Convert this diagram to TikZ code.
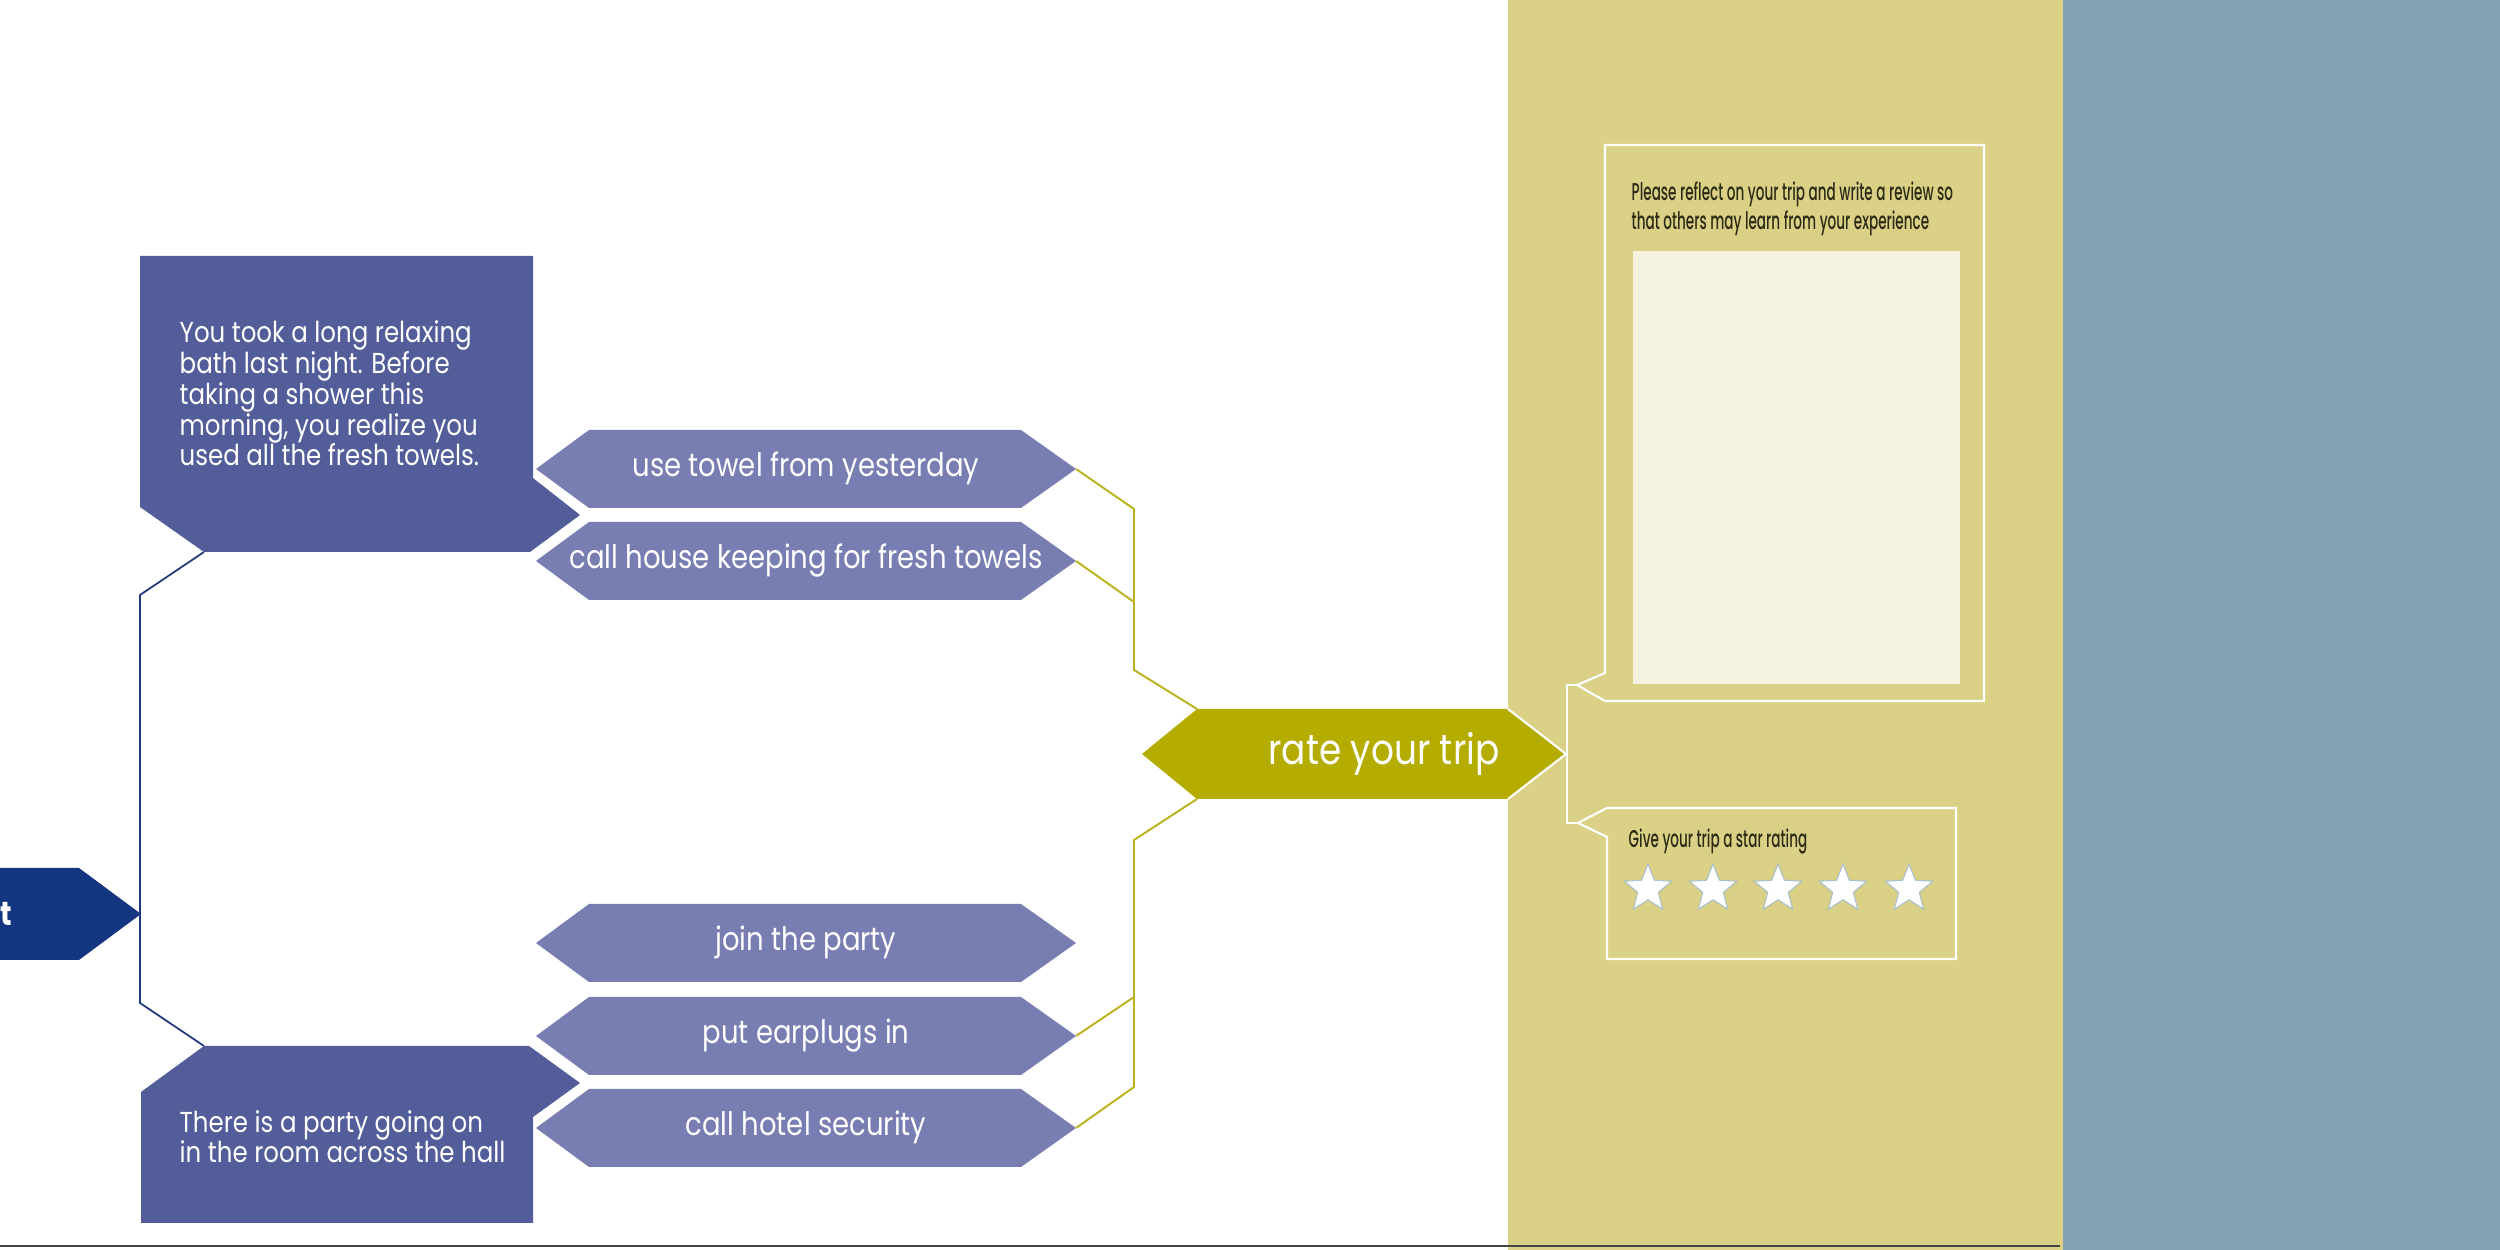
\documentclass[tikz,border=0pt]{standalone}
\usepackage{fontspec}
\setmainfont[FakeStretch=0.85]{Poppins}
\newfontfamily\condfont[FakeStretch=0.56, UprightFont=* Medium]{Poppins}
\usetikzlibrary{shapes.geometric}
\definecolor{boxblue}{HTML}{525D9A}
\definecolor{optblue}{HTML}{787DB2}
\definecolor{startblue}{HTML}{143580}
\definecolor{navyline}{HTML}{1F3A7C}
\definecolor{olivefill}{HTML}{B5AC00}
\definecolor{oliveline}{HTML}{BDB11C}
\definecolor{goldpanel}{HTML}{DAD186}
\definecolor{greyblue}{HTML}{84A3B5}
\definecolor{creambox}{HTML}{F5F2E0}
\definecolor{darktext}{HTML}{2B2A14}
\definecolor{starline}{HTML}{A9BFCB}
\definecolor{bottomgrey}{HTML}{444444}
\newcommand{\drawopt}[3]{%
  \fill[optblue] (536,#2) -- (589,#2-39) -- (1021,#2-39) -- (1076,#2) -- (1021,#2+39) -- (589,#2+39) -- cycle;
  \coordinate (#1-e) at (1076,#2);
  \node[opttext, anchor=base] (#1) at (806,#2+8) {#3};}
\begin{document}
\begin{tikzpicture}[x=0.1mm,y=-0.1mm,
  opttext/.style={inner sep=0pt, text=white, font=\fontsize{9.2}{11}\selectfont},
  boxtext/.style={inner sep=0pt, text=white, align=left, font=\fontsize{8.2}{8.8}\selectfont},
  ratetext/.style={inner sep=0pt, text=white, font=\fontsize{12}{14}\selectfont},
  starttext/.style={inner sep=0pt, text=white, font=\fontsize{9.5}{11}\selectfont\bfseries},
  paneltext/.style={inner sep=0pt, text=darktext, align=left, font=\condfont\fontsize{6.9}{8.5}\selectfont},
  navyconn/.style={draw=navyline, line width=0.5pt},
  oliveconn/.style={draw=oliveline, line width=0.55pt},
  whiteline/.style={draw=white, line width=0.6pt},
  ratingstar/.style={star, star points=5, star point ratio=2.3, minimum size=5mm, inner sep=0pt, fill=white, draw=starline, line width=0.3pt}]
\useasboundingbox (0,0) rectangle (2500,1250);
\fill[white] (0,0) rectangle (2500,1250);
\fill[goldpanel] (1508,0) rectangle (2063,1250);
\fill[greyblue] (2063,0) rectangle (2500,1250);
\draw[bottomgrey, line width=0.55pt] (0,1246) -- (2060,1246);

% start arrow (cut off at left edge)
\fill[startblue] (-20,868) -- (79,868) -- (141,914) -- (79,960) -- (-20,960) -- cycle;
\coordinate (starttip) at (141,914);
\node[starttext, anchor=base east] (start) at (13,926) {t};

% scenario 1
\fill[boxblue] (140,256) -- (533,256) -- (533,478) -- (580,515) -- (530,552) -- (204,552) -- (140,507) -- cycle;
\coordinate (b1corner) at (204,552);
\node[boxtext, anchor=base west] (scen1) at (179,466) {You took a long relaxing\\bath last night. Before\\taking a shower this\\morning, you realize you\\used all the fresh towels.};

% scenario 2
\fill[boxblue] (204,1046) -- (529,1046) -- (580,1083) -- (533,1117) -- (533,1223) -- (141,1223) -- (141,1092) -- cycle;
\coordinate (b2corner) at (204,1046);
\node[boxtext, anchor=base west] (scen2) at (179,1163) {There is a party going on\\in the room across the hall};

% navy connector
\coordinate (nv1) at (140,595);
\coordinate (nv2) at (140,1003);
\draw[navyconn] (b1corner) -- (nv1) -- (nv2) -- (b2corner);

% options
\drawopt{opt1}{469}{use towel from yesterday}
\drawopt{opt2}{561}{call house keeping for fresh towels}
\drawopt{opt3}{943}{join the party}
\drawopt{opt4}{1036}{put earplugs in}
\drawopt{opt5}{1128}{call hotel security}

% rate arrow
\fill[olivefill] (1142,754) -- (1197,709) -- (1508,709) -- (1566,754) -- (1508,799) -- (1197,799) -- cycle;
\coordinate (rate-nw) at (1197,709);
\coordinate (rate-sw) at (1197,799);
\coordinate (rate-e) at (1566,754);
\draw[whiteline] (1508,709) -- (rate-e) -- (1508,799);
\node[ratetext, anchor=base] (rate) at (1384,765) {rate your trip};

% olive connectors
\coordinate (g1) at (1134,509);
\coordinate (g2) at (1134,602);
\coordinate (g3) at (1134,670);
\coordinate (g4) at (1134,840);
\coordinate (g5) at (1134,997);
\coordinate (g6) at (1134,1087);
\draw[oliveconn] (opt1-e) -- (g1) -- (g3) -- (rate-nw);
\draw[oliveconn] (opt2-e) -- (g2);
\draw[oliveconn] (rate-sw) -- (g4) -- (g6) -- (opt5-e);
\draw[oliveconn] (opt4-e) -- (g5);

% right side callouts
\coordinate (r1tip) at (1577,685);
\coordinate (r2tip) at (1578,823);
\coordinate (br1) at (1567,685);
\coordinate (br2) at (1567,823);
\draw[whiteline] (r1tip) -- (br1) -- (br2) -- (r2tip);

\draw[whiteline] (1605,673) -- (1605,145) -- (1984,145) -- (1984,701) -- (1605,701) -- (r1tip) -- cycle;
\fill[creambox] (1633,251) rectangle (1960,684);
\node[paneltext, anchor=base west] (review) at (1631,230) {Please reflect on your trip and write a review so\\that others may learn from your experience};

\draw[whiteline] (1607,837) -- (1607,959) -- (1956,959) -- (1956,808) -- (1607,808) -- (r2tip) -- cycle;
\node[paneltext, anchor=base west] (ratinglabel) at (1628,848) {Give your trip a star rating};
\foreach \i/\x in {1/1648,2/1713,3/1778,4/1843,5/1909}
  \node[ratingstar] (star\i) at (\x,889) {};
\end{tikzpicture}
\end{document}
